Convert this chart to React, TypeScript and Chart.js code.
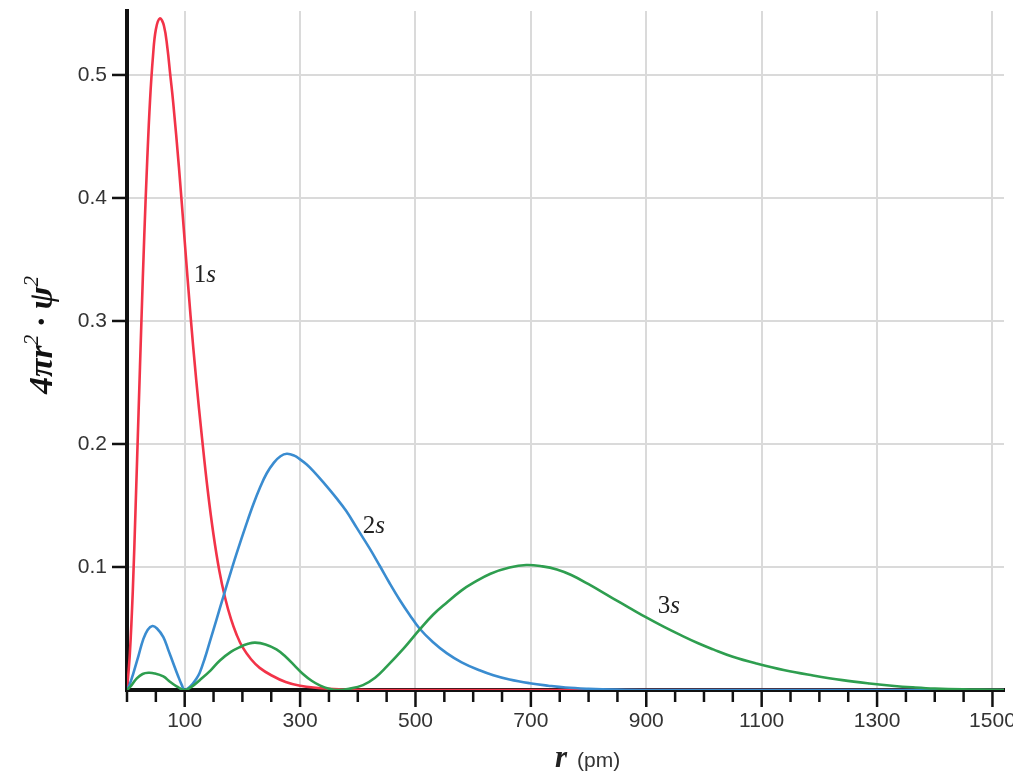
import React, { useEffect, useRef } from "react";
import { Chart, registerables } from "chart.js";

Chart.register(...registerables);

// ---- data ----
const r1s = [0, 5, 10, 15, 20, 25, 30, 35, 40, 45, 50, 57, 64, 70, 75, 80, 90, 100, 110, 120, 130, 140, 150, 160, 170, 180, 190, 200, 215, 230, 250, 275, 300, 350, 400, 450, 1520];
const v1s = [0, 0.03, 0.08, 0.15, 0.225, 0.3, 0.37, 0.43, 0.48, 0.515, 0.537, 0.546, 0.54, 0.522, 0.5, 0.478, 0.425, 0.365, 0.305, 0.252, 0.205, 0.162, 0.126, 0.097, 0.075, 0.058, 0.045, 0.035, 0.025, 0.018, 0.012, 0.0065, 0.0035, 0.001, 0.0002, 0, 0];

const r2s = [0, 5, 11, 20, 28, 36, 44, 52, 63, 72, 80, 88, 95, 100, 110, 120, 126, 135, 144, 155, 167, 180, 190, 207, 219, 230, 242, 255, 266, 277, 290, 300, 311, 323, 340, 363, 380, 398, 420, 438, 455, 473, 490, 507, 530, 554, 580, 611, 635, 663, 698, 730, 760, 800, 850, 900, 1520];
const v2s = [0, 0.005, 0.0136, 0.028, 0.041, 0.049, 0.052, 0.05, 0.043, 0.032, 0.022, 0.012, 0.004, 0, 0.003, 0.009, 0.014, 0.026, 0.04, 0.057, 0.076, 0.096, 0.111, 0.135, 0.151, 0.164, 0.176, 0.185, 0.19, 0.192, 0.1905, 0.1875, 0.1835, 0.178, 0.169, 0.156, 0.1455, 0.132, 0.1155, 0.101, 0.087, 0.073, 0.061, 0.05, 0.039, 0.03, 0.0225, 0.016, 0.012, 0.0085, 0.0055, 0.0035, 0.002, 0.001, 0.0003, 0, 0];

const r3s = [0, 8, 17, 27, 37, 48, 63, 75, 86, 100, 113, 126, 145, 161, 180, 196, 210, 222, 240, 259, 275, 290, 305, 320, 335, 350, 365, 385, 409, 430, 450, 480, 507, 530, 554, 580, 600, 630, 663, 692, 720, 745, 770, 800, 842, 870, 900, 930, 958, 990, 1016, 1050, 1091, 1140, 1189, 1240, 1287, 1330, 1362, 1400, 1449, 1500, 1520];
const v3s = [0, 0.004, 0.0095, 0.013, 0.014, 0.0135, 0.011, 0.0065, 0.003, 0, 0.003, 0.008, 0.016, 0.024, 0.031, 0.035, 0.0375, 0.0385, 0.037, 0.033, 0.027, 0.02, 0.013, 0.0075, 0.0035, 0.001, 0, 0.001, 0.004, 0.01, 0.019, 0.034, 0.049, 0.061, 0.071, 0.081, 0.087, 0.0945, 0.0995, 0.1016, 0.1005, 0.098, 0.0935, 0.086, 0.0745, 0.067, 0.059, 0.0515, 0.045, 0.038, 0.033, 0.027, 0.0215, 0.016, 0.0118, 0.008, 0.0053, 0.0033, 0.0022, 0.0012, 0.0005, 0.0002, 0];

const xTickValues = [0, 50, 100, 150, 200, 250, 300, 350, 400, 450, 500, 550, 600, 650, 700, 750, 800, 850, 900, 950, 1000, 1050, 1100, 1150, 1200, 1250, 1300, 1350, 1400, 1450, 1500];
const xTickLabels = [100, 300, 500, 700, 900, 1100, 1300, 1500];
const yTickValues = [0, 0.1, 0.2, 0.3, 0.4, 0.5];
const yTickLabels = ["0.1", "0.2", "0.3", "0.4", "0.5"];

const seriesNames = ["3s", "2s", "1s"];
const seriesColors = ["#2e9e4f", "#3a8cd0", "#f23348"];

// curve labels: [digit, italic part, r, value]
const curveLabels: [string, string, number, number][] = [
  ["1", "s", 135, 0.337],
  ["2", "s", 428, 0.133],
  ["3", "s", 939, 0.068],
];

const X_MIN = 0;
const X_MAX = 1520;
const Y_MIN = 0;
const Y_MAX = 0.552;

const SANS = "'Liberation Sans', Arial, Helvetica, sans-serif";
const SERIF = "'Liberation Serif', 'Times New Roman', serif";

const decorPlugin = {
  id: "decor",
  afterDraw(chart: any) {
    const ctx = chart.ctx as CanvasRenderingContext2D;
    const xs = chart.scales.x;
    const ys = chart.scales.y;
    const ca = chart.chartArea;
    ctx.save();

    // tick marks
    ctx.strokeStyle = "#111";
    ctx.lineWidth = 2.5;
    xs.ticks.forEach((t: any) => {
      const px = xs.getPixelForValue(t.value);
      const major = xTickLabels.includes(t.value);
      ctx.beginPath();
      ctx.moveTo(px, ca.bottom);
      ctx.lineTo(px, ca.bottom + (major ? 17 : 12));
      ctx.stroke();
    });
    ys.ticks.forEach((t: any) => {
      if (t.value === 0) return;
      const py = ys.getPixelForValue(t.value);
      ctx.beginPath();
      ctx.moveTo(ca.left - 15, py);
      ctx.lineTo(ca.left, py);
      ctx.stroke();
    });

    // curve labels
    ctx.fillStyle = "#222";
    ctx.textBaseline = "middle";
    ctx.textAlign = "left";
    curveLabels.forEach(([d, s, r, v]) => {
      const cx = xs.getPixelForValue(r);
      const cy = ys.getPixelForValue(v);
      ctx.font = `25px ${SERIF}`;
      const w1 = ctx.measureText(d).width;
      ctx.font = `italic 25px ${SERIF}`;
      const w2 = ctx.measureText(s).width;
      const x0 = cx - (w1 + w2) / 2;
      ctx.font = `25px ${SERIF}`;
      ctx.fillText(d, x0, cy);
      ctx.font = `italic 25px ${SERIF}`;
      ctx.fillText(s, x0 + w1, cy);
    });

    // x title: r (pm)
    ctx.textBaseline = "alphabetic";
    ctx.fillStyle = "#222";
    ctx.font = `bold italic 31px ${SERIF}`;
    ctx.fillText("r", 555, 767);
    ctx.fillStyle = "#333";
    ctx.font = `21px ${SANS}`;
    ctx.fillText("(pm)", 577, 767);

    // y title: 4πr² · ψ²
    const parts: [string, boolean][] = [
      ["4\u03c0r", false],
      ["2", true],
      [" \u00b7 \u03c8", false],
      ["2", true],
    ];
    const mainFont = `bold italic 34px ${SERIF}`;
    const supFont = `italic 21px ${SERIF}`;
    let total = 0;
    const widths = parts.map(([t, sup]) => {
      ctx.font = sup ? supFont : mainFont;
      const w = ctx.measureText(t).width;
      total += w;
      return w;
    });
    ctx.translate(52, 335);
    ctx.rotate(-Math.PI / 2);
    ctx.fillStyle = "#111";
    let xx = -total / 2;
    parts.forEach(([t, sup], i) => {
      ctx.font = sup ? supFont : mainFont;
      ctx.fillText(t, xx, sup ? -14 : 0);
      xx += widths[i];
    });

    ctx.restore();
  },
};

export default function App() {
  const canvasRef = useRef<HTMLCanvasElement | null>(null);

  useEffect(() => {
    document.body.style.margin = "0";
    const canvas = canvasRef.current;
    if (!canvas) return;

    const rs = [r3s, r2s, r1s];
    const vs = [v3s, v2s, v1s];

    const chart = new Chart(canvas, {
      type: "line",
      data: {
        datasets: seriesNames.map((name, i) => ({
          label: name,
          data: rs[i].map((r, j) => ({ x: r, y: vs[i][j] })),
          borderColor: seriesColors[i],
          backgroundColor: seriesColors[i],
          borderWidth: 2.6,
          pointRadius: 0,
          fill: false,
          tension: 0.4,
          order: i,
        })),
      },
      options: {
        responsive: false,
        animation: false,
        devicePixelRatio: 1,
        layout: { padding: { left: 0, top: 11, right: 9, bottom: 0 } },
        plugins: {
          legend: { display: false },
          tooltip: { enabled: false },
          title: { display: false },
        },
        scales: {
          x: {
            type: "linear",
            min: X_MIN,
            max: X_MAX,
            afterBuildTicks: (scale: any) => {
              scale.ticks = xTickValues.map((v) => ({ value: v }));
            },
            afterFit: (scale: any) => {
              scale.height = 83;
              scale.paddingLeft = 0;
              scale.paddingRight = 0;
              scale.paddingTop = 0;
              scale.paddingBottom = 0;
            },
            ticks: {
              autoSkip: false,
              maxRotation: 0,
              minRotation: 0,
              padding: 19,
              color: "#333",
              font: { family: SANS, size: 21 },
              callback: (v: any) => (xTickLabels.includes(Number(v)) ? String(v) : ""),
            },
            grid: {
              drawTicks: false,
              lineWidth: 2,
              color: (c: any) =>
                c.tick && xTickLabels.includes(c.tick.value) ? "#dadada" : "rgba(0,0,0,0)",
            },
            border: { display: true, color: "#111", width: 4 },
          },
          y: {
            type: "linear",
            min: Y_MIN,
            max: Y_MAX,
            afterBuildTicks: (scale: any) => {
              scale.ticks = yTickValues.map((v) => ({ value: v }));
            },
            afterFit: (scale: any) => {
              scale.width = 127;
              scale.paddingLeft = 0;
              scale.paddingRight = 0;
              scale.paddingTop = 0;
              scale.paddingBottom = 0;
            },
            ticks: {
              padding: 20,
              color: "#333",
              font: { family: SANS, size: 21 },
              callback: (v: any, i: number) => (i === 0 ? "" : yTickLabels[i - 1]),
            },
            grid: {
              drawTicks: false,
              lineWidth: 2,
              color: (c: any) => (c.tick && c.tick.value > 0 ? "#dadada" : "rgba(0,0,0,0)"),
            },
            border: { display: true, color: "#111", width: 4 },
          },
        },
      },
      plugins: [decorPlugin],
    });

    return () => chart.destroy();
  }, []);

  return (
    <div style={{ width: 1013, height: 773, position: "relative", background: "#fff" }}>
      <canvas ref={canvasRef} width={1013} height={773} style={{ display: "block" }} />
    </div>
  );
}
